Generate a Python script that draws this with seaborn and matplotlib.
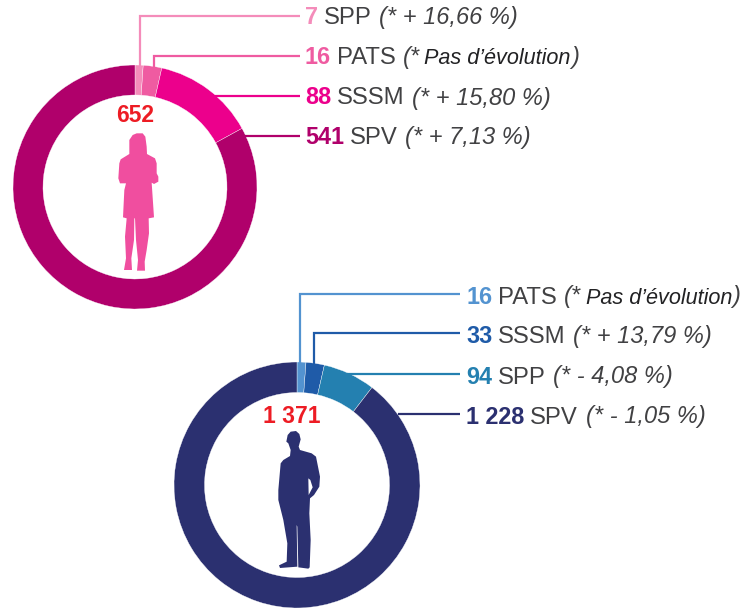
#!/usr/bin/env python3
# -*- coding: utf-8 -*-

import seaborn as sns
import matplotlib.pyplot as plt

# =========================================================
# DATA
# =========================================================
WOMEN_TOTAL = "652"
WOMEN_CATS = ["SPP", "PATS", "SSSM", "SPV"]
WOMEN_VALUES = [7, 16, 88, 541]
WOMEN_NUMS = ["7", "16", "88", "541"]
WOMEN_NOTES = ["(* + 16,66 %)", "(* Pas d’évolution)", "(* + 15,80 %)", "(* + 7,13 %)"]

MEN_TOTAL = "1 371"
MEN_CATS = ["PATS", "SSSM", "SPP", "SPV"]
MEN_VALUES = [16, 33, 94, 1228]
MEN_NUMS = ["16", "33", "94", "1 228"]
MEN_NOTES = ["(* Pas d’évolution)", "(* + 13,79 %)", "(* - 4,08 %)", "(* - 1,05 %)"]

# =========================================================
# COLORS
# =========================================================
WOMEN_COLORS = sns.color_palette(["#f48cba", "#ef5ba1", "#ec008c", "#b0006b"])
MEN_COLORS = sns.color_palette(["#5393d0", "#1f5ba8", "#2480b0", "#2b3070"])
COL_WOMAN = "#f04e9f"
COL_MAN = "#2b3070"
COL_TOTAL = "#ed1c24"
COL_TEXT = "#414143"

W, H = 755, 612

sns.set_theme(style="white")
plt.rcParams["font.family"] = ["Liberation Sans", "DejaVu Sans"]

fig = plt.figure(figsize=(W / 100, H / 100), dpi=100, facecolor="white")
ax = fig.add_axes([0, 0, 1, 1])


def flip(ys):
    return [H - y for y in ys]


def donut(values, colors, center, radius, width):
    ax.pie(
        values,
        colors=colors,
        center=(center[0], H - center[1]),
        radius=radius,
        startangle=90,
        counterclock=False,
        wedgeprops=dict(width=width, edgecolor="white", linewidth=0.25),
    )
    # pie() resets the limits, so pin the pixel frame again
    ax.set_xlim(0, W)
    ax.set_ylim(0, H)
    ax.set_aspect("equal")
    ax.axis("off")


def leader(xs, ys, color):
    ax.plot(xs, flip(ys), color=color, lw=1.6, solid_joinstyle="miter",
            solid_capstyle="butt", zorder=3)


def label_row(x, y, num, cat, note, color):
    renderer = fig.canvas.get_renderer()
    t = ax.text(x, H - y, num, color=color, fontsize=16.8, fontweight="bold", va="baseline")
    x = t.get_window_extent(renderer).x1 + 5.5
    t = ax.text(x, H - y, cat, color=COL_TEXT, fontsize=17.2, va="baseline")
    x = t.get_window_extent(renderer).x1 + 8
    if "Pas" in note:
        t = ax.text(x, H - y, "(*", color=COL_TEXT, fontsize=17, style="italic", va="baseline")
        x = t.get_window_extent(renderer).x1 + 4
        t = ax.text(x, H - y, note[3:-1], color="#222224", fontsize=15.6, style="italic", va="baseline")
        x = t.get_window_extent(renderer).x1
        ax.text(x, H - y, ")", color=COL_TEXT, fontsize=17, style="italic", va="baseline")
    else:
        ax.text(x, H - y, note, color=COL_TEXT, fontsize=17, style="italic", va="baseline")


# =========================================================
# SILHOUETTES (outlines, zoom coords)
# =========================================================
WOMAN_SHAPE = [
    (398, 405), (410, 400), (428, 400), (436, 410), (440, 440), (441, 462), (465, 475), (470, 490),
    (470, 520), (475, 530), (475, 545), (462, 552), (455, 548), (462, 652), (446, 655),
    (447, 700), (440, 750), (434, 785), (435, 812), (411, 812), (414, 780), (408, 720),
    (405, 655), (403, 655), (402, 720), (394, 775), (396, 810), (372, 810), (378, 775),
    (375, 710), (380, 655), (369, 652), (373, 570), (378, 550), (360, 550), (355, 535),
    (358, 490), (362, 478), (388, 462), (388, 420),
]
MAN_SHAPE = [
    (392, 455), (408, 453), (418, 462), (422, 478), (416, 500), (420, 510), (455, 520), (468, 530),
    (480, 590), (478, 620), (462, 645), (450, 655), (448, 700), (452, 780), (449, 862),
    (445, 866), (415, 862), (412, 740), (410, 735), (412, 860), (360, 864), (357, 856),
    (380, 845), (382, 790), (370, 720), (355, 660), (355, 630), (362, 550), (370, 540),
    (390, 528), (392, 510), (385, 490), (379, 485), (383, 465),
]
MAN_GAP = [(445, 595), (451, 600), (458, 622), (446, 645)]


def shape(points, x0, y0, color):
    xs = [x0 + p[0] / 3 for p in points]
    ys = [H - (y0 + p[1] / 3) for p in points]
    ax.fill(xs, ys, color=color, lw=0, zorder=2)


# =========================================================
# WOMEN
# =========================================================
donut(WOMEN_VALUES, WOMEN_COLORS, (135, 187), 122, 30)
shape(WOMAN_SHAPE, 0, 0, COL_WOMAN)
ax.text(135.5, H - 122.5, WOMEN_TOTAL, color=COL_TOTAL, fontsize=16.5, fontweight="bold",
        ha="center", va="baseline")

leader([139.5, 139.5, 300], [66, 16, 16], WOMEN_COLORS[0])
leader([153.5, 153.5, 300], [67, 55.5, 55.5], WOMEN_COLORS[1])
leader([200, 300], [96, 96], WOMEN_COLORS[2])
leader([238, 300], [136, 136], WOMEN_COLORS[3])

# =========================================================
# MEN
# =========================================================
donut(MEN_VALUES, MEN_COLORS, (297, 485), 123, 30.5)
shape(MAN_SHAPE, 160, 280, COL_MAN)
shape(MAN_GAP, 160, 280, "white")
ax.text(291.5, H - 423.3, MEN_TOTAL, color=COL_TOTAL, fontsize=16.5, fontweight="bold",
        ha="center", va="baseline", zorder=4)

leader([300.3, 300.3, 460], [363, 294.3, 294.3], MEN_COLORS[0])
leader([314, 314, 460], [364, 333, 333], MEN_COLORS[1])
leader([347, 460], [374.3, 374.3], MEN_COLORS[2])
leader([398, 460], [414, 414], MEN_COLORS[3])

# =========================================================
# LABELS (placed last, the row measures its own text widths)
# =========================================================
fig.canvas.draw()
for y, num, cat, note, col in zip([24, 64, 104.5, 144], WOMEN_NUMS, WOMEN_CATS, WOMEN_NOTES, WOMEN_COLORS):
    label_row(305, y, num, cat, note, col)

for y, num, cat, note, col in zip([303.5, 343, 383.5, 423.5], MEN_NUMS, MEN_CATS, MEN_NOTES, MEN_COLORS):
    label_row(466, y, num, cat, note, col)

plt.savefig("out.png", dpi=100)
